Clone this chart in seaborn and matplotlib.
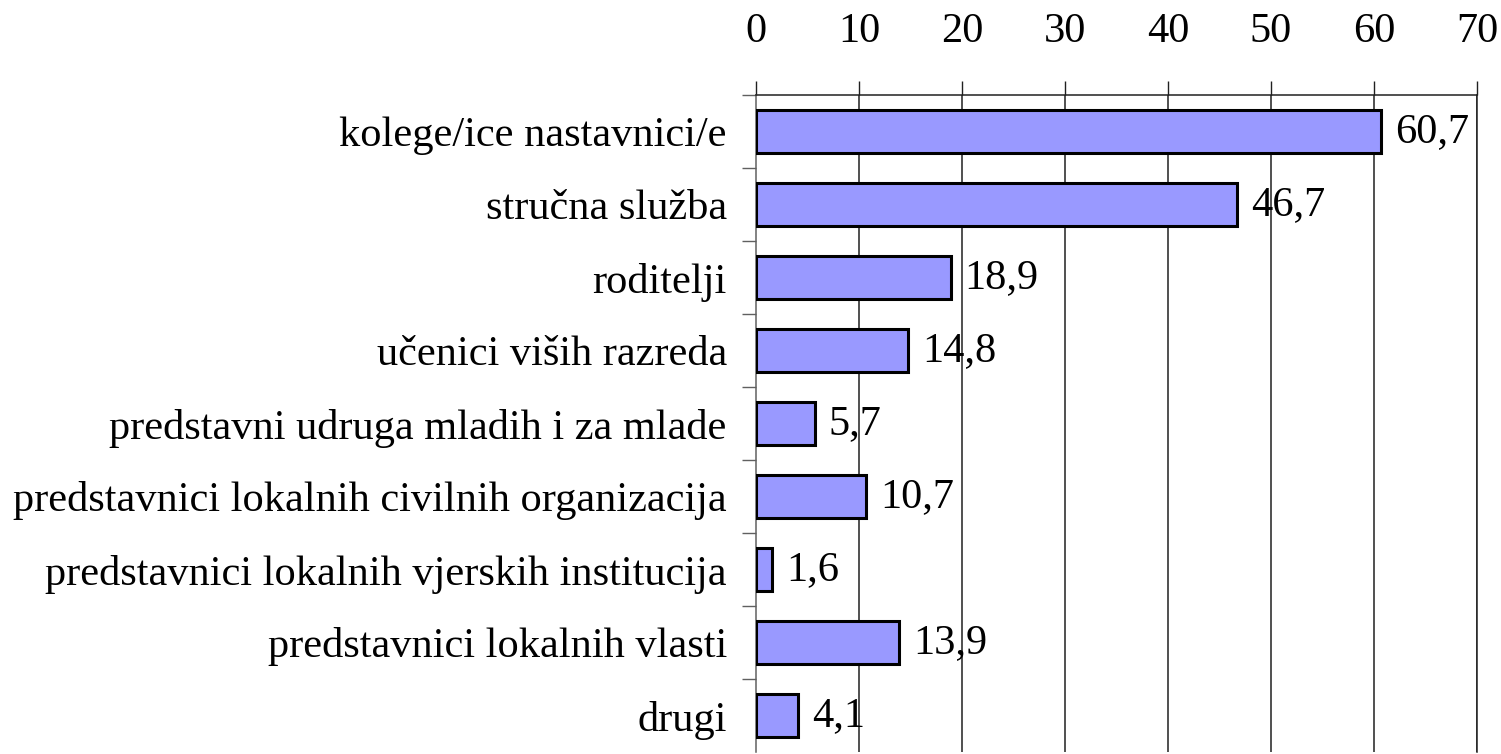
import matplotlib
matplotlib.use("Agg")
import matplotlib.pyplot as plt
import seaborn as sns
import pandas as pd
import numpy as np
from matplotlib.ticker import FixedLocator

categories = [
    "kolege/ice nastavnici/e",
    "stručna služba",
    "roditelji",
    "učenici viših razreda",
    "predstavni udruga mladih i za mlade",
    "predstavnici lokalnih civilnih organizacija",
    "predstavnici lokalnih vjerskih institucija",
    "predstavnici lokalnih vlasti",
    "drugi",
]
values = [60.7, 46.7, 18.9, 14.8, 5.7, 10.7, 1.6, 13.9, 4.1]
xticks = [0, 10, 20, 30, 40, 50, 60, 70]

sns.set_style("white")
plt.rcParams["font.family"] = ["Liberation Serif", "DejaVu Serif"]
plt.rcParams["text.color"] = "black"
plt.rcParams["xtick.labelcolor"] = "black"
plt.rcParams["ytick.labelcolor"] = "black"

FS = 30.5

df = pd.DataFrame({"cat": categories, "val": values})

fig = plt.figure(figsize=(15.01, 7.54), dpi=100)
ax = fig.add_axes([756/1501, 2/754, (1477-756)/1501, (752-95)/754])

sns.barplot(data=df, x="val", y="cat", orient="h", color="#9999FF",
            edgecolor="black", linewidth=2.2, width=0.58, saturation=1, ax=ax, zorder=3)

ax.set_xlim(0, 70)
ax.set_ylim(len(categories) - 0.5, -0.5)
ax.set_xlabel("")
ax.set_ylabel("")

ax.xaxis.set_major_locator(FixedLocator(xticks))
ax.set_xticklabels([str(t) for t in xticks])
ax.xaxis.tick_top()
ax.tick_params(axis="x", which="major", top=True, bottom=False, labeltop=True, labelbottom=False,
               direction="out", length=10, width=1, color="#202020", pad=22, labelsize=FS,
               labelcolor="black")
for t in xticks[1:]:
    ax.axvline(t, color="#202020", linewidth=1.1, zorder=1)

ax.tick_params(axis="y", which="major", length=0, pad=21, labelsize=FS, labelcolor="black")
ax.yaxis.set_minor_locator(FixedLocator(np.arange(-0.5, len(categories) - 0.5, 1.0)))
ax.tick_params(axis="y", which="minor", left=True, length=10, width=1, color="#606060", direction="out")

for s in ["top", "left", "right"]:
    ax.spines[s].set_visible(True)
    ax.spines[s].set_color("#202020")
    ax.spines[s].set_linewidth(1.1)
ax.spines["bottom"].set_visible(False)
ax.spines["left"].set_color("#606060")

for i, v in enumerate(values):
    ax.annotate(f"{v:.1f}".replace(".", ","), xy=(v, i), xytext=(10, 0),
                textcoords="offset points", va="center", ha="left", fontsize=FS,
                color="black", zorder=4)

fig.savefig("out.png", dpi=100)
